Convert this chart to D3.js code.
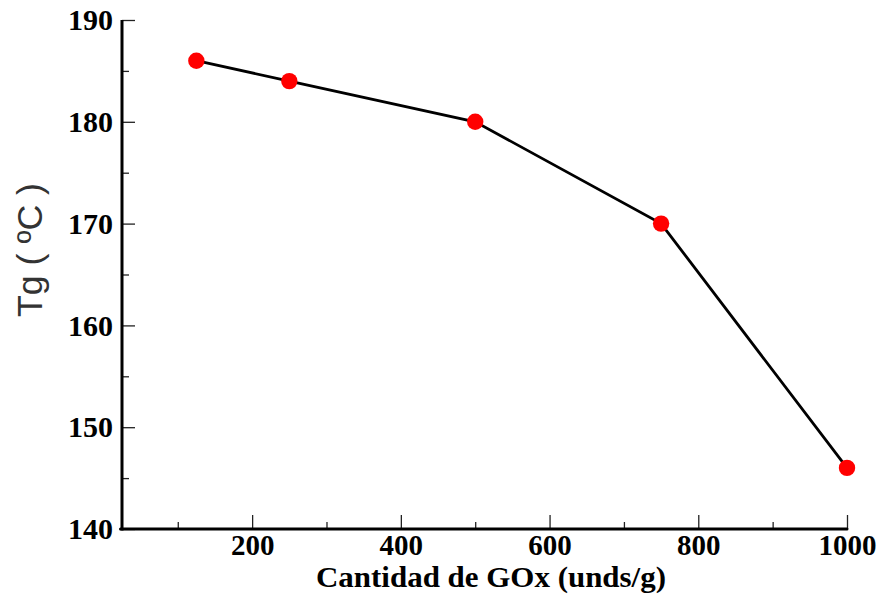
<!DOCTYPE html>
<html><head><meta charset="utf-8">
<script src="https://cdn.jsdelivr.net/npm/d3@7"></script>
<style>
html,body{margin:0;padding:0;background:#fff;}
svg{display:block;}
</style></head>
<body><svg id="chart" width="880" height="595"></svg>
<script>
const xValues = [125, 250, 500, 750, 1000];
const tgValues = [186, 184, 180, 170, 146];
const xTicks = [200, 400, 600, 800, 1000];
const xMinorTicks = [100, 300, 500, 700, 900];
const yTicks = [140, 150, 160, 170, 180, 190];
const yMinorTicks = [145, 155, 165, 175, 185];
const xLabel = "Cantidad de GOx (unds/g)";
const yLabel = "Tg  ( ºC )";

const svg = d3.select("#chart");
const x = d3.scaleLinear().domain([25, 1000]).range([122, 847]);
const y = d3.scaleLinear().domain([140, 190]).range([529, 20]);
const serif = "'Liberation Serif','Times New Roman',serif";

function styleAxis(g, labels, size) {
  g.select(".domain").remove();
  g.selectAll(".tick line").attr("stroke", "#222").attr("stroke-width", 1.3);
  g.selectAll(".tick text").attr("font-family", serif).attr("font-weight", "bold")
    .attr("font-size", size).attr("fill", "#000");
  if (!labels) g.selectAll(".tick text").remove();
}

// Y axis major/minor
svg.append("g").attr("transform", `translate(${x(25)},0)`)
  .call(d3.axisLeft(y).tickValues(yTicks).tickFormat(d3.format("d")).tickSize(-13).tickPadding(9))
  .call(g => styleAxis(g, true, 30));
svg.append("g").attr("transform", `translate(${x(25)},0)`)
  .call(d3.axisLeft(y).tickValues(yMinorTicks).tickSize(-7))
  .call(g => styleAxis(g, false, 30));
// X axis major/minor
svg.append("g").attr("transform", `translate(0,${y(140)})`)
  .call(d3.axisBottom(x).tickValues(xTicks).tickFormat(d3.format("d")).tickSize(-14).tickPadding(5))
  .call(g => styleAxis(g, true, 29));
svg.append("g").attr("transform", `translate(0,${y(140)})`)
  .call(d3.axisBottom(x).tickValues(xMinorTicks).tickSize(-7))
  .call(g => styleAxis(g, false, 29));

// Axis lines
svg.append("line").attr("x1", x(25)).attr("x2", x(25)).attr("y1", y(190)).attr("y2", y(140) + 1.5)
  .attr("stroke", "#000").attr("stroke-width", 3);
svg.append("line").attr("x1", x(25) - 1.5).attr("x2", x(1000)).attr("y1", y(140)).attr("y2", y(140))
  .attr("stroke", "#000").attr("stroke-width", 3).attr("stroke-linecap", "round");

// Line + points
const pts = xValues.map((v, i) => [v, tgValues[i]]);
svg.append("path").datum(pts)
  .attr("d", d3.line().x(d => x(d[0])).y(d => y(d[1])))
  .attr("fill", "none").attr("stroke", "#000").attr("stroke-width", 2.8);
svg.selectAll("circle.pt").data(pts).enter().append("circle")
  .attr("cx", d => x(d[0])).attr("cy", d => y(d[1])).attr("r", 8.2)
  .attr("fill", "#ff0000");

// Titles
svg.append("text").attr("x", 491).attr("y", 587).attr("text-anchor", "middle")
  .attr("font-family", serif).attr("font-weight", "bold").attr("font-size", 29).attr("fill", "#000")
  .attr("textLength", 350).attr("lengthAdjust", "spacingAndGlyphs")
  .text(xLabel);
svg.append("text")
  .attr("transform", "translate(42,317) rotate(-90)")
  .attr("x", 0).attr("y", 0)
  .attr("font-family", "'Liberation Sans',Arial,sans-serif").attr("font-size", 35).attr("fill", "#333")
  .attr("textLength", 134).attr("lengthAdjust", "spacingAndGlyphs")
  .text(yLabel);
</script>
</body></html>
